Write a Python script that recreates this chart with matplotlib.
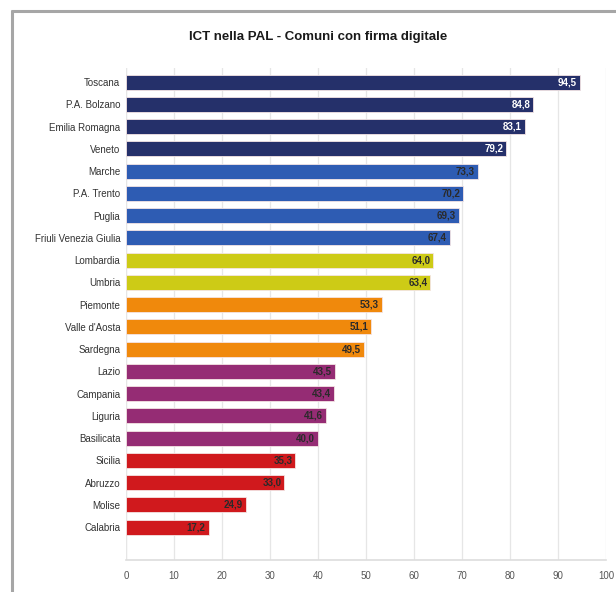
import matplotlib.pyplot as plt
from matplotlib.lines import Line2D

plt.rcParams['font.family'] = ['Liberation Sans', 'DejaVu Sans']

# Dati
regioni = ['Toscana', 'P.A. Bolzano', 'Emilia Romagna', 'Veneto', 'Marche',
           'P.A. Trento', 'Puglia', 'Friuli Venezia Giulia', 'Lombardia', 'Umbria',
           'Piemonte', "Valle d'Aosta", 'Sardegna', 'Lazio', 'Campania', 'Liguria',
           'Basilicata', 'Sicilia', 'Abruzzo', 'Molise', 'Calabria']
valori = [94.5, 84.8, 83.1, 79.2, 73.3, 70.2, 69.3, 67.4, 64.0, 63.4,
          53.3, 51.1, 49.5, 43.5, 43.4, 41.6, 40.0, 35.3, 33.0, 24.9, 17.2]
gruppi = [0, 0, 0, 0, 1, 1, 1, 1, 2, 2, 3, 3, 3, 4, 4, 4, 4, 5, 5, 5, 5]
colori_gruppi = ['#25306a', '#2e5cb3', '#cdcb16', '#f0890c', '#952c74', '#d0191d']
colori_testo = ['white', '#2a2a2a', '#2a2a2a', '#2a2a2a', '#2a2a2a', '#2a2a2a']
xticks = [0, 10, 20, 30, 40, 50, 60, 70, 80, 90, 100]

fig = plt.figure(figsize=(6.16, 5.92), dpi=100)
ax = fig.add_axes([0.2045, 0.054, 0.7793, 0.831])

pos = list(range(len(regioni)))
cols = [colori_gruppi[g] for g in gruppi]
ax.barh(pos, valori, height=0.68, color=cols, edgecolor='#f4e4e4', linewidth=0.6, zorder=3)

for p, v, g in zip(pos, valori, gruppi):
    ax.text(v - 0.6, p, f'{v:.1f}'.replace('.', ','), ha='right', va='center',
            fontsize=7, fontweight='bold', color=colori_testo[g], zorder=4)

ax.set_ylim(21.48, -0.63)
ax.set_xlim(0, 100)
ax.set_yticks(pos)
ax.set_yticklabels(regioni, fontsize=7, color='#333333')
ax.set_xticks(xticks)
ax.set_xticklabels([str(t) for t in xticks], fontsize=7, color='#555555')
ax.tick_params(axis='y', length=0, pad=4)
ax.tick_params(axis='x', length=0, pad=8)

ax.grid(axis='x', color='#e6e6e6', linewidth=0.9, zorder=0)
for s in ['top', 'right', 'left']:
    ax.spines[s].set_visible(False)
ax.spines['bottom'].set_color('#dddddd')
ax.spines['bottom'].set_linewidth(1.2)
ax.axvline(0, color='#e6e6e6', linewidth=0.9, zorder=1)

fig.text(0.517, 0.937, 'ICT nella PAL - Comuni con firma digitale',
         ha='center', va='center', fontsize=9.5, fontweight='bold', color='#1a1a1a')

# cornice
W, H = 616, 592
fig.add_artist(Line2D([11.5 / W, 11.5 / W], [0, 1 - 10 / H], color='#a6a6a6', linewidth=2.2,
                      transform=fig.transFigure, solid_capstyle='butt'))
fig.add_artist(Line2D([10.5 / W, 1], [1 - 10.5 / H, 1 - 10.5 / H], color='#a6a6a6', linewidth=2.2,
                      transform=fig.transFigure, solid_capstyle='butt'))

fig.savefig('out.png', dpi=100)
